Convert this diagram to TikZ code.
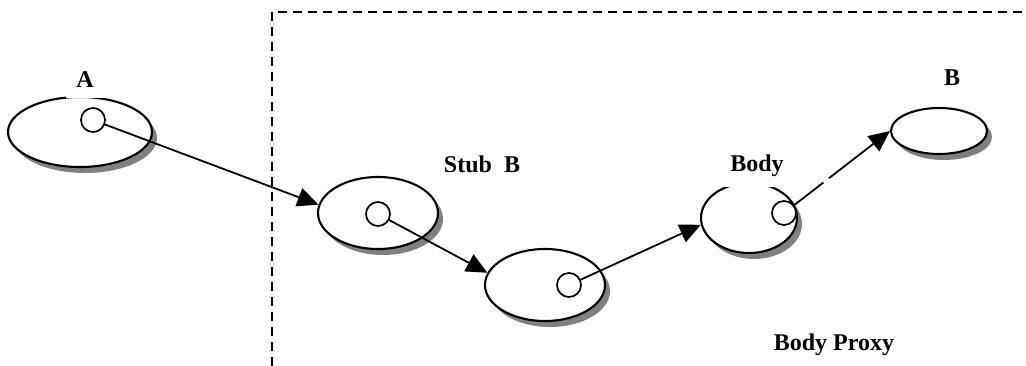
\documentclass[tikz,border=0pt]{standalone}
\usepackage{fontspec}
\setmainfont{Liberation Serif}
\usetikzlibrary{arrows.meta,shapes.geometric,shadows}
\begin{document}
\begin{tikzpicture}[x=1pt,y=-1pt,
  obj/.style={ellipse, draw, line width=2.1pt, fill=white, inner sep=0pt,
    drop shadow={shadow xshift=5pt, shadow yshift=-6pt, fill=black!50, opacity=1}},
  port/.style={circle, draw, line width=1.7pt, fill=white, minimum size=24pt, inner sep=0pt},
  lbl/.style={fill=white, anchor=base, inner sep=10pt, font=\fontsize{24}{28}\selectfont\bfseries},
  link/.style={line width=1.8pt, -{Triangle[length=21pt,width=19pt]}},
  frame/.style={line width=1.8pt, dash pattern=on 9pt off 6pt}]
\useasboundingbox (0,0) rectangle (1026,366);

% dashed boundary of the proxy region
\coordinate (fb) at (272,366);
\coordinate (fc) at (272,12);
\coordinate (fr) at (1026,12);
\draw[frame] (fb) -- (fc) -- (fr);

% objects
\node[obj, minimum width=144pt, minimum height=70pt] (ea) at (80,132) {};
\node[obj, minimum width=120pt, minimum height=72pt] (es) at (378,213) {};
\node[obj, minimum width=120pt, minimum height=72pt] (el) at (545,285) {};
\node[obj, minimum width=96pt, minimum height=70pt] (eb) at (749,218) {};
\node[obj, minimum width=96pt, minimum height=46pt] (ebb) at (939,131) {};

% labels
\node[lbl] (la) at (85,88) {A};
\node[lbl] (ls) at (482,173) {Stub\ \ B};
\node[lbl] (lb) at (757,172) {Body};
\node[lbl] (lbb) at (952,86) {B};
\node[lbl] (lp) at (834,350) {Body Proxy};

% ports
\node[port] (pa) at (93,120) {};
\node[port] (ps) at (378,214) {};
\node[port] (pl) at (569,285) {};
\node[port] (pb) at (784,213) {};

% invocation chain
\draw[link] (pa) -- (es.172);
\draw[link] (ps) -- (el.168);
\draw[link] (pl) -- (eb.188);
\draw[link, dash pattern=on 37pt off 7pt on 400pt off 0pt] (pb) -- (ebb.west);
\end{tikzpicture}
\end{document}
